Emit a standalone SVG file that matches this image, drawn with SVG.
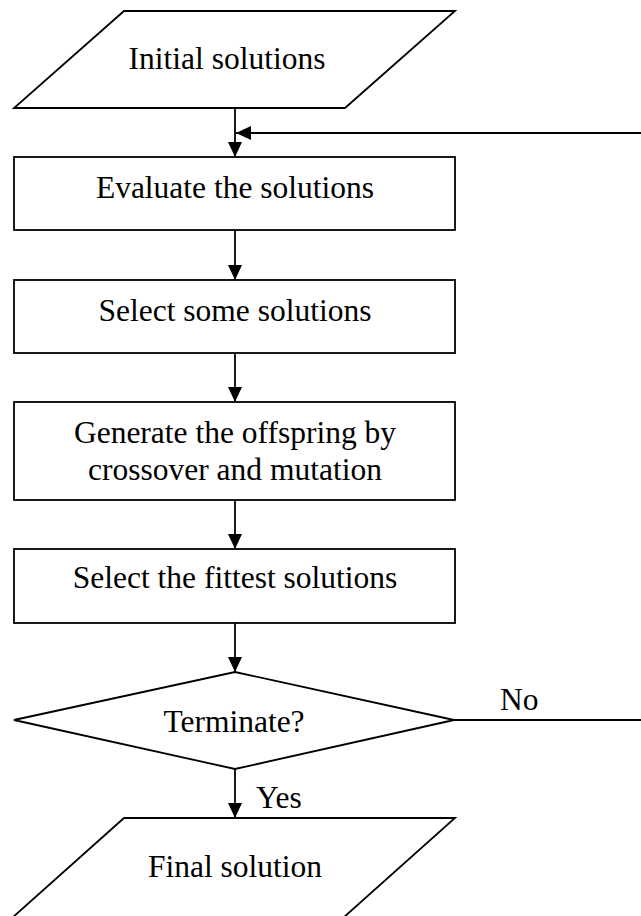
<svg xmlns="http://www.w3.org/2000/svg" width="641" height="916" viewBox="0 0 641 916">
  <style>
    .shape { fill: #ffffff; stroke: #000000; stroke-width: 1.8; }
    .wire { fill: none; stroke: #000000; stroke-width: 1.8; }
    .label { font-family: "Liberation Serif", "Times New Roman", serif; font-size: 31.5px; fill: #000000; }
    .mid { text-anchor: middle; }
  </style>
  <defs>
    <marker id="arrow" markerUnits="userSpaceOnUse" markerWidth="16" markerHeight="16" viewBox="0 0 16 16" refX="15" refY="8" orient="auto">
      <path d="M0,1 L15,8 L0,15 Z" fill="#000000"/>
    </marker>
  </defs>

  <rect width="641" height="916" fill="#ffffff"/>

  <!-- connectors -->
  <g id="connectors">
    <line class="wire" x1="235" y1="108" x2="235" y2="157" marker-end="url(#arrow)"/>
    <line class="wire" x1="642" y1="133" x2="236" y2="133" marker-end="url(#arrow)"/>
    <line class="wire" x1="235" y1="230" x2="235" y2="280" marker-end="url(#arrow)"/>
    <line class="wire" x1="235" y1="353" x2="235" y2="402" marker-end="url(#arrow)"/>
    <line class="wire" x1="235" y1="500" x2="235" y2="549" marker-end="url(#arrow)"/>
    <line class="wire" x1="235" y1="623" x2="235" y2="672" marker-end="url(#arrow)"/>
    <line class="wire" x1="235" y1="769" x2="235" y2="818" marker-end="url(#arrow)"/>
    <line class="wire" x1="454" y1="720" x2="642" y2="720"/>
    <text class="label" x="500" y="710">No</text>
    <text class="label" x="256" y="808">Yes</text>
  </g>

  <!-- input -->
  <g id="initial">
    <polygon class="shape" points="124,11 455,11 345,108 14,108"/>
    <text class="label mid" x="227" y="69">Initial solutions</text>
  </g>

  <g id="evaluate">
    <rect class="shape" x="14" y="157" width="441" height="73"/>
    <text class="label mid" x="235" y="198">Evaluate the solutions</text>
  </g>

  <g id="select">
    <rect class="shape" x="14" y="280" width="441" height="73"/>
    <text class="label mid" x="235" y="321">Select some solutions</text>
  </g>

  <g id="generate">
    <rect class="shape" x="14" y="402" width="441" height="98"/>
    <text class="label mid" x="235" y="443">Generate the offspring by</text>
    <text class="label mid" x="235" y="480">crossover and mutation</text>
  </g>

  <g id="fittest">
    <rect class="shape" x="14" y="549" width="441" height="74"/>
    <text class="label mid" x="235" y="588">Select the fittest solutions</text>
  </g>

  <!-- decision -->
  <g id="terminate">
    <polygon class="shape" points="235,672 454,720 235,769 14,720"/>
    <text class="label mid" x="234" y="732">Terminate?</text>
  </g>

  <!-- output -->
  <g id="final">
    <polygon class="shape" points="124,818 455,818 343,918 12,918"/>
    <text class="label mid" x="235" y="877">Final solution</text>
  </g>
</svg>
